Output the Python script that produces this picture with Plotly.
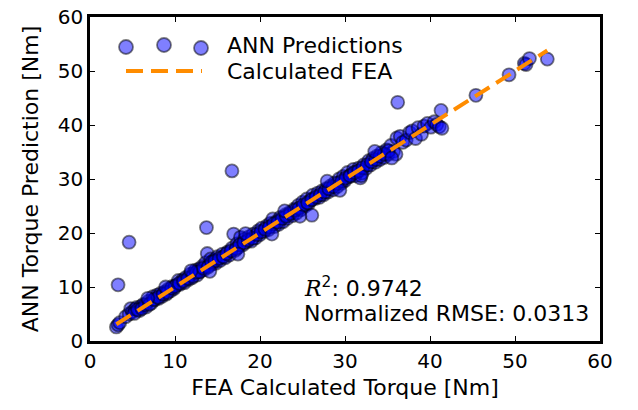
import plotly.graph_objects as go

fea = [3.1, 3.3, 3.5, 4.2, 4.6, 4.8, 5.0, 5.3, 5.5, 5.8, 6.0, 6.3, 6.6, 6.9, 7.2, 7.4, 7.6, 7.9, 8.1, 8.3,
       8.5, 8.8, 9.0, 9.2, 9.5, 9.7, 9.9, 3.3, 4.6,
       10.2, 10.4, 10.6, 10.9, 11.1, 11.3, 11.6, 11.8, 12.0, 12.2, 12.4, 12.6, 12.8, 13.0, 13.2, 13.4, 13.6,
       13.8, 14.0, 14.2, 14.4, 14.6, 14.8, 15.0, 15.3, 15.6, 15.9, 16.2, 16.4, 16.7, 16.9, 17.1, 17.3, 17.5,
       17.7, 18.0, 18.2, 18.5, 18.7, 19.0, 19.2, 19.5, 19.8, 13.7, 16.7,
       20.0, 20.2, 20.5, 20.8, 21.0, 21.2, 21.5, 21.7, 22.0, 22.2, 22.4, 22.7, 23.0, 23.2, 23.5, 23.8, 24.0,
       24.3, 24.5, 24.8, 25.0, 25.3, 25.5, 25.7, 26.0, 26.2, 26.1, 26.5, 26.8, 27.0, 27.3, 27.5, 27.8, 28.0,
       28.3, 28.6, 28.8, 29.1, 29.3, 29.6, 29.8,
       30.0, 30.3, 30.5, 30.8, 31.0, 31.2, 31.4, 31.6, 31.8, 32.0, 32.2, 32.5, 32.8, 33.0, 33.3, 33.6, 33.8,
       34.1, 34.3, 34.6, 34.9, 35.1, 35.4, 35.7, 36.0, 36.1, 36.2,
       36.5, 36.8, 37.2, 37.6, 37.9, 38.3, 38.6, 39.0, 39.3, 39.7, 40.1, 40.5, 40.8, 41.1, 41.4, 41.3,
       45.4, 49.3, 51.1, 51.3, 51.7, 53.8,
       5.2, 5.6, 6.1, 6.5, 7.0, 7.5, 8.0, 8.6, 9.1, 9.6, 10.0, 10.5, 11.0, 11.5, 12.1, 12.5, 12.9, 13.3, 13.9,
       14.3, 14.7, 15.2, 15.7, 16.1, 16.6, 17.2, 17.6, 18.1, 18.6, 19.1, 19.6, 20.1, 20.6, 21.1, 21.6, 22.1,
       22.6, 23.1, 23.6, 24.1, 24.6, 25.1, 25.6, 26.1, 26.6, 27.1, 27.6, 28.1, 28.6, 29.1, 29.6, 30.1, 30.6,
       31.1, 31.6, 32.1, 32.6, 33.1, 33.6, 34.1, 34.6, 35.1,
       17.4, 18.3, 21.4, 22.9, 24.7, 27.9, 29.4, 31.9, 33.5, 35.5, 11.9, 14.1, 8.9, 6.8]

ann = [2.6, 3.0, 3.4, 4.5, 5.0, 6.0, 5.4, 5.9, 6.2, 5.6, 6.4, 6.8, 6.3, 7.4, 7.0, 8.2, 7.6, 8.5, 7.9, 8.8,
       8.3, 9.1, 8.7, 9.6, 9.3, 10.1, 9.7, 10.4, 18.3,
       10.4, 11.2, 10.5, 11.3, 10.8, 11.8, 11.4, 12.4, 11.7, 12.6, 13.1, 12.2, 13.3, 12.9, 13.8, 13.2, 14.5,
       16.2, 14.0, 15.2, 14.3, 15.0, 14.4, 15.6, 14.9, 16.1, 15.4, 16.5, 15.9, 17.2, 19.8, 16.8, 18.0, 17.4,
       19.2, 17.8, 18.9, 18.4, 19.3, 18.5, 19.8, 19.1, 20.4, 21.0, 31.5,
       19.7, 20.9, 20.3, 21.3, 20.6, 21.8, 22.6, 21.2, 22.2, 21.6, 22.9, 22.1, 23.4, 22.7, 23.8, 23.2, 24.4,
       23.7, 25.1, 24.3, 25.7, 25.0, 26.3, 25.4, 26.1, 27.0, 23.3, 26.4, 27.4, 26.6, 27.8, 27.1, 28.2, 27.6,
       28.7, 28.0, 29.3, 28.6, 30.0, 29.2, 30.5,
       29.7, 31.2, 30.4, 30.9, 31.8, 30.6, 31.4, 32.0, 30.2, 31.1, 32.6, 32.0, 33.4, 32.6, 33.8, 33.1, 34.3,
       33.6, 34.9, 34.0, 35.4, 34.6, 36.2, 35.1, 34.6, 37.6, 44.2,
       37.9, 36.8, 37.2, 38.6, 38.9, 37.5, 39.5, 38.3, 39.8, 40.3, 39.6, 40.6, 40.1, 39.7, 39.4, 42.7,
       45.5, 49.3, 51.4, 51.2, 52.3, 52.2,
       5.1, 5.8, 6.0, 6.7, 6.8, 7.7, 8.1, 8.7, 9.0, 9.8, 10.1, 10.7, 11.1, 11.6, 12.0, 12.7, 12.8, 13.5, 13.7,
       14.6, 14.8, 15.3, 15.6, 16.2, 16.7, 17.1, 17.8, 18.2, 18.7, 19.0, 19.7, 20.2, 20.7, 21.1, 21.7, 22.0,
       22.7, 23.1, 23.6, 24.2, 24.6, 25.2, 25.6, 26.2, 26.7, 27.1, 27.6, 28.2, 28.6, 29.2, 29.6, 30.2, 30.6,
       31.2, 31.5, 32.1, 32.6, 33.2, 33.6, 34.2, 34.6, 35.2,
       16.1, 19.9, 19.8, 24.1, 23.1, 29.6, 27.9, 30.6, 35.1, 33.9, 13.0, 12.9, 10.0, 7.9]

r2_text = '<span style="font-family:DejaVu Serif"><i>R</i></span><sup>2</sup>: 0.9742'
rmse_text = "Normalized RMSE: 0.0313"
FONT = "DejaVu Sans"

fea_line = [min(fea), max(fea)]

fig = go.Figure()
fig.add_trace(go.Scatter(
    x=fea, y=ann, mode="markers", name="ANN Predictions",
    marker=dict(size=13, color="rgba(0,0,255,0.5)",
                line=dict(color="rgba(0,0,0,0.5)", width=1.8)),
    showlegend=False))
fig.add_trace(go.Scatter(
    x=fea_line, y=fea_line, mode="lines", name="Calculated FEA",
    line=dict(color="#ff8c00", width=4, dash="17px,8px"),
    showlegend=False))

# plot-area geometry (screen px) used to place the hand-drawn legend
L0, B0, W, H = 90.0, 341.0, 510.0, 324.0
r = 7.0
for cx, cy in [(126, 47), (164, 45), (201, 48)]:
    px = (cx - L0) / W
    py = (B0 - cy) / H
    fig.add_shape(type="circle", xref="paper", yref="paper",
                  x0=px - r / W, x1=px + r / W, y0=py - r / H, y1=py + r / H,
                  fillcolor="rgba(0,0,255,0.5)", line=dict(color="rgba(0,0,0,0.5)", width=1.8))
ly = (B0 - 71) / H
fig.add_shape(type="line", xref="paper", yref="paper",
              x0=(126 - L0) / W, x1=(202 - L0) / W, y0=ly, y1=ly,
              line=dict(color="#ff8c00", width=4, dash="17px,8px"))
fig.add_annotation(xref="paper", yref="paper", x=(225 - L0) / W, y=(B0 - 46) / H,
                   text="ANN Predictions", showarrow=False, xanchor="left", yanchor="middle",
                   font=dict(family=FONT, size=22, color="black"))
fig.add_annotation(xref="paper", yref="paper", x=(225 - L0) / W, y=(B0 - 72) / H,
                   text="Calculated FEA", showarrow=False, xanchor="left", yanchor="middle",
                   font=dict(family=FONT, size=22, color="black"))

fig.add_annotation(xref="paper", yref="paper", x=(302 - L0) / W, y=(B0 - 287) / H,
                   text=r2_text, showarrow=False, xanchor="left", yanchor="middle",
                   font=dict(family=FONT, size=22, color="black"))
fig.add_annotation(xref="paper", yref="paper", x=(302 - L0) / W, y=(B0 - 313) / H,
                   text=rmse_text, showarrow=False, xanchor="left", yanchor="middle",
                   font=dict(family=FONT, size=22, color="black"))

axis_common = dict(range=[0, 60], dtick=10, showgrid=False, zeroline=False, automargin=False,
                   showline=True, linecolor="black", linewidth=2.5, mirror="allticks",
                   ticks="inside", ticklen=5, tickwidth=1, tickcolor="black",
                   ticklabeloverflow="allow",
                   tickfont=dict(family=FONT, size=20, color="black"))
fig.update_xaxes(title=dict(text="FEA Calculated Torque [Nm]", font=dict(family=FONT, size=22, color="black"),
                            standoff=8), **axis_common)
fig.update_yaxes(title=dict(text="ANN Torque Prediction [Nm]", font=dict(family=FONT, size=22, color="black"),
                            standoff=14), **axis_common)
# page body has an 8px default margin, so margins are shifted by 8px
fig.update_layout(width=638, height=410, plot_bgcolor="white", paper_bgcolor="white",
                  margin=dict(l=82, r=46, t=9, b=77), showlegend=False)
fig.write_html("out.html")
